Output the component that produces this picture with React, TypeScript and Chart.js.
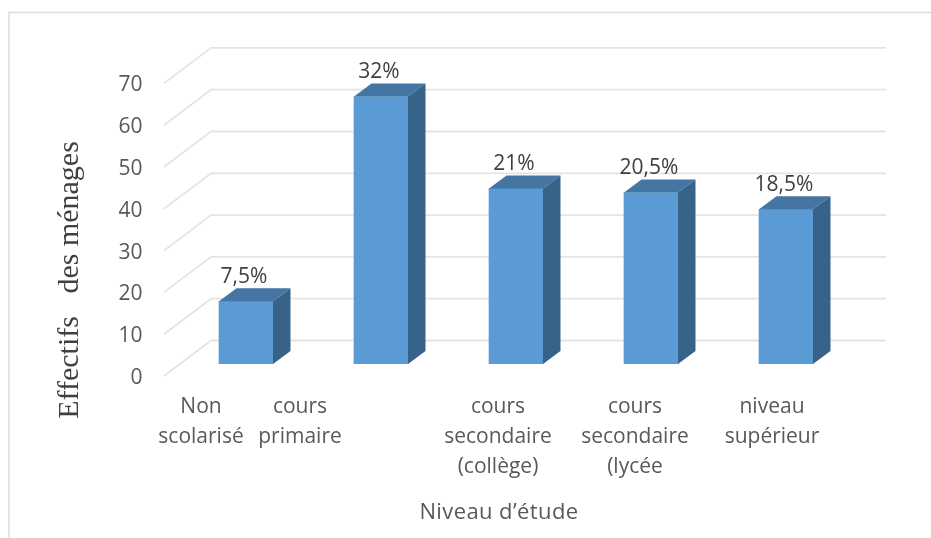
import React, { useEffect, useRef } from "react";
import { Chart, registerables } from "chart.js";

Chart.register(...registerables);

const categories: string[][] = [
  ["Non", "scolarisé"],
  ["cours", "primaire"],
  ["cours", "secondaire", "(collège)"],
  ["cours", "secondaire", "(lycée"],
  ["niveau", "supérieur"],
];
const households = [15, 64, 42, 41, 37];
const shares = ["7,5%", "32%", "21%", "20,5%", "18,5%"];
const labelShiftX = [-45, -81, -18, -16, -14];
const yTicks = [0, 10, 20, 30, 40, 50, 60, 70];
const yTitle = "Effectifs   des ménages";
const xTitle = "Niveau d’étude";

const TEXT = "#595959";
const FONT = '"Open Sans", sans-serif';

const scene = {
  id: "scene",
  beforeDatasetsDraw(chart: any) {
    const { ctx, scales } = chart;
    const y = scales.y;
    ctx.save();
    // frame
    ctx.strokeStyle = "#dcdcdc";
    ctx.lineWidth = 1.5;
    ctx.beginPath();
    ctx.moveTo(9, 538);
    ctx.lineTo(9, 12.5);
    ctx.lineTo(931, 12.5);
    ctx.stroke();
    // walls
    ctx.strokeStyle = "#e4e4e4";
    ctx.lineWidth = 1.8;
    yTicks.forEach((t) => {
      const py = y.getPixelForValue(t);
      ctx.beginPath();
      ctx.moveTo(164, py + 12);
      ctx.lineTo(211, py - 23.5);
      ctx.lineTo(886, py - 23.5);
      ctx.stroke();
    });
    ctx.restore();
  },
  afterDatasetsDraw(chart: any) {
    const { ctx } = chart;
    const dx = 17.5;
    const dy = -13;
    const meta = chart.getDatasetMeta(0);
    ctx.save();
    meta.data.forEach((bar: any, i: number) => {
      const l = bar.x - bar.width / 2;
      const r = bar.x + bar.width / 2;
      const t = bar.y;
      const b = bar.base;
      ctx.fillStyle = "#4576a3";
      ctx.beginPath();
      ctx.moveTo(l, t);
      ctx.lineTo(l + dx, t + dy);
      ctx.lineTo(r + dx, t + dy);
      ctx.lineTo(r, t);
      ctx.closePath();
      ctx.fill();
      ctx.fillStyle = "#376389";
      ctx.beginPath();
      ctx.moveTo(r, t);
      ctx.lineTo(r + dx, t + dy);
      ctx.lineTo(r + dx, b + dy);
      ctx.lineTo(r, b);
      ctx.closePath();
      ctx.fill();

      ctx.fillStyle = "#404040";
      ctx.font = `21px ${FONT}`;
      ctx.textAlign = "center";
      ctx.textBaseline = "middle";
      ctx.fillText(shares[i], bar.x - 2, t - 24.5);

      ctx.fillStyle = TEXT;
      ctx.font = `21px ${FONT}`;
      categories[i].forEach((line, k) => {
        ctx.fillText(line, bar.x + labelShiftX[i], 407 + k * 30);
      });
    });
    ctx.fillStyle = TEXT;
    ctx.font = `22px ${FONT}`;
    (ctx as any).letterSpacing = "0.4px";
    ctx.fillText(xTitle, 499, 513);
    (ctx as any).letterSpacing = "0px";
    ctx.translate(70, 280);
    ctx.rotate(-Math.PI / 2);
    ctx.fillStyle = "#404040";
    ctx.font = '30px "Liberation Serif", serif';
    ctx.fillText(yTitle, 0, 0);
    ctx.restore();
  },
};

export default function App() {
  const ref = useRef<HTMLCanvasElement>(null);
  useEffect(() => {
    const chart = new Chart(ref.current!, {
      type: "bar",
      data: {
        labels: categories.map((c) => c.join(" ")),
        datasets: [
          {
            data: households,
            backgroundColor: "#5b9bd5",
            borderWidth: 0,
            barThickness: 54,
          },
        ],
      },
      options: {
        responsive: false,
        animation: false,
        layout: { padding: { top: 71.4, right: 77.5, left: 0, bottom: 0 } },
        plugins: { legend: { display: false }, tooltip: { enabled: false } },
        scales: {
          x: {
            grid: { display: false },
            border: { display: false },
            ticks: { display: false },
            afterFit: (s: any) => {
              s.height = 174;
            },
          },
          y: {
            min: 0,
            max: 70,
            grid: { display: false, drawTicks: false },
            border: { display: false },
            ticks: {
              stepSize: 10,
              padding: 36,
              labelOffset: 14,
              color: TEXT,
              font: { family: '"Open Sans", sans-serif', size: 21 },
            },
            afterFit: (s: any) => {
              s.width = 178.5;
            },
          },
        },
      },
      plugins: [scene],
    } as any);
    return () => chart.destroy();
  }, []);
  return (
    <div style={{ position: "absolute", left: 0, top: 0, width: 931, height: 538, background: "#fff" }}>
      <canvas ref={ref} width={931} height={538} style={{ display: "block" }} />
    </div>
  );
}
